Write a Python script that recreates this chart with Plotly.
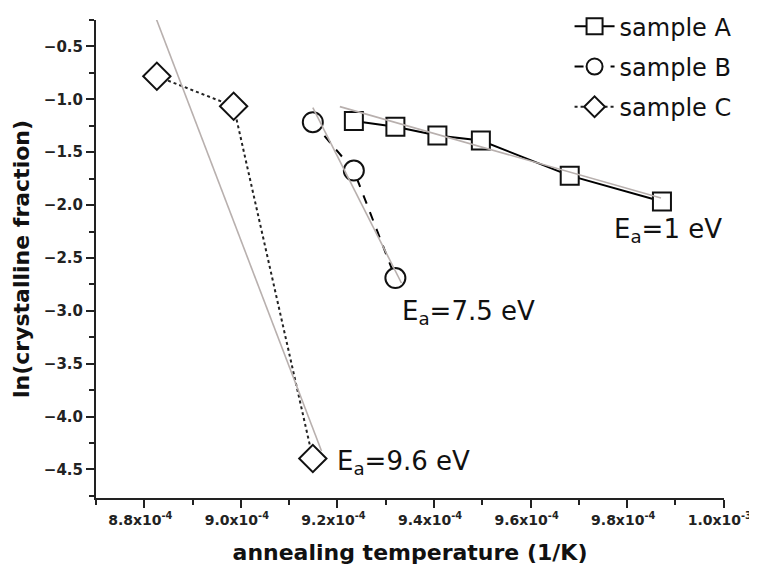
import plotly.graph_objects as go

# ---- data ----
sample_a_x = [9.234e-4, 9.320e-4, 9.407e-4, 9.497e-4, 9.681e-4, 9.872e-4]
sample_a_y = [-1.206, -1.259, -1.342, -1.389, -1.722, -1.966]

sample_b_x = [9.149e-4, 9.234e-4, 9.320e-4]
sample_b_y = [-1.216, -1.674, -2.69]

sample_c_x = [8.826e-4, 8.985e-4, 9.149e-4]
sample_c_y = [-0.782, -1.066, -4.396]

fit_a_x = [9.205e-4, 9.870e-4]
fit_a_y = [-1.069, -1.934]
fit_b_x = [9.149e-4, 9.3325e-4]
fit_b_y = [-1.079, -2.737]
fit_c_x = [8.824e-4, 9.167e-4]
fit_c_y = [-0.23, -4.326]

series_names = ["sample A", "sample B", "sample C"]
ea_labels = ["E<sub>a</sub>=1 eV", "E<sub>a</sub>=7.5 eV", "E<sub>a</sub>=9.6 eV"]
ea_pos_x = [9.768e-4, 9.329e-4, 9.194e-4]
ea_pos_y = [-2.237, -3.02, -4.433]

x_tickvals = [8.8e-4, 9.0e-4, 9.2e-4, 9.4e-4, 9.6e-4, 9.8e-4, 1.0e-3]
x_ticktext = ["8.8x10<sup>-4</sup>", "9.0x10<sup>-4</sup>", "9.2x10<sup>-4</sup>",
              "9.4x10<sup>-4</sup>", "9.6x10<sup>-4</sup>", "9.8x10<sup>-4</sup>",
              "1.0x10<sup>-3</sup>"]
y_tickvals = [-0.5, -1.0, -1.5, -2.0, -2.5, -3.0, -3.5, -4.0, -4.5]

FIT_COLOR = "#b8b0ae"

fig = go.Figure()

# data series
fig.add_trace(go.Scatter(
    x=sample_a_x, y=sample_a_y, mode="lines+markers", name=series_names[0],
    legendgroup="a",
    line=dict(color="black", width=2, dash="solid"),
    marker=dict(symbol="square", size=18, color="white",
                line=dict(color="#111111", width=2)),
))
fig.add_trace(go.Scatter(
    x=sample_b_x, y=sample_b_y, mode="lines+markers", name=series_names[1],
    legendgroup="b",
    line=dict(color="black", width=2, dash="dash"),
    marker=dict(symbol="circle", size=20, color="white",
                line=dict(color="#111111", width=2)),
))
fig.add_trace(go.Scatter(
    x=sample_c_x, y=sample_c_y, mode="lines+markers", name=series_names[2],
    legendgroup="c",
    line=dict(color="#222222", width=2, dash="dot"),
    marker=dict(symbol="diamond", size=21, color="white",
                line=dict(color="#111111", width=2)),
))

# linear fits (gray)
for fx, fy in [(fit_a_x, fit_a_y), (fit_b_x, fit_b_y), (fit_c_x, fit_c_y)]:
    fig.add_trace(go.Scatter(
        x=fx, y=fy, mode="lines", showlegend=False, hoverinfo="skip",
        line=dict(color=FIT_COLOR, width=1.6),
    ))

for txt, ax, ay in zip(ea_labels, ea_pos_x, ea_pos_y):
    fig.add_annotation(
        x=ax, y=ay, xref="x", yref="y", text=txt, showarrow=False,
        xanchor="left", yanchor="middle",
        font=dict(family="DejaVu Sans", size=26, color="#111111"),
    )

xtickfont = dict(family="DejaVu Sans", size=14, color="#222222", weight="bold")
ytickfont = dict(family="DejaVu Sans", size=15, color="#222222", weight="bold")
titlefont = dict(family="DejaVu Sans", size=22, color="#111111", weight="bold")

fig.update_layout(
    width=749, height=568,
    margin=dict(l=88, r=33, t=12, b=78, autoexpand=False),
    paper_bgcolor="white", plot_bgcolor="white",
    showlegend=True,
    legend=dict(
        x=1.02, y=1.033, xanchor="right", yanchor="top",
        bgcolor="rgba(0,0,0,0)",
        font=dict(family="DejaVu Sans", size=24, color="#111111"),
        tracegroupgap=6, itemwidth=40,
    ),
    xaxis=dict(
        range=[8.7e-4, 1.00005e-3], automargin=False,
        tickmode="array", tickvals=x_tickvals, ticktext=x_ticktext,
        ticklabeloverflow="allow", ticklabelshift=-4,
        ticks="outside", ticklen=8, tickwidth=2, tickcolor="#222222",
        showline=True, linecolor="#222222", linewidth=2,
        showgrid=False, zeroline=False,
        tickfont=xtickfont,
        minor=dict(dtick=1e-5, tick0=8.7e-4, ticks="outside", ticklen=5,
                   tickwidth=2, tickcolor="#222222", showgrid=False),
        title=dict(text="annealing temperature (1/K)", font=titlefont, standoff=18),
    ),
    yaxis=dict(
        range=[-4.77, -0.25], automargin=False,
        tickmode="array", tickvals=y_tickvals, tickformat=".1f",
        ticks="outside", ticklen=8, tickwidth=2, tickcolor="#222222",
        showline=True, linecolor="#222222", linewidth=2,
        showgrid=False, zeroline=False,
        tickfont=ytickfont,
        minor=dict(dtick=0.25, tick0=0, ticks="outside", ticklen=5,
                   tickwidth=2, tickcolor="#222222", showgrid=False),
        title=dict(text="ln(crystalline fraction)", font=titlefont, standoff=8),
    ),
)

fig.write_html("out.html")
